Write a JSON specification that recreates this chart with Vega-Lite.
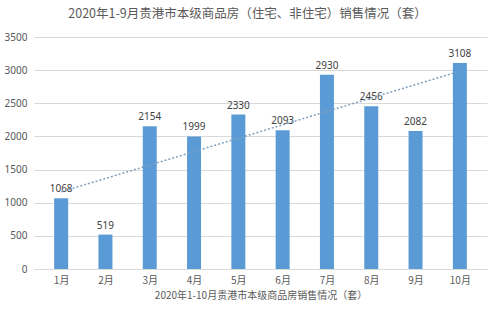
{
  "$schema": "https://vega.github.io/schema/vega-lite/v6.json",
  "autosize": {"type": "none"},
  "padding": {"left": 34, "top": 37, "right": 13, "bottom": 45},
  "width": 453,
  "height": 232,
  "background": "white",
  "title": {
    "text": "2020年1-9月贵港市本级商品房（住宅、非住宅）销售情况（套）",
    "font": "Noto Sans CJK SC",
    "fontSize": 12.5,
    "fontWeight": "normal",
    "color": "#595959",
    "anchor": "middle",
    "frame": "group",
    "dx": -13,
    "offset": 12
  },
  "config": {
    "view": {"stroke": null},
    "font": "Noto Sans CJK SC"
  },
  "data": {
    "values": [
      {"m": 1, "v": 1068},
      {"m": 2, "v": 519},
      {"m": 3, "v": 2154},
      {"m": 4, "v": 1999},
      {"m": 5, "v": 2330},
      {"m": 6, "v": 2093},
      {"m": 7, "v": 2930},
      {"m": 8, "v": 2456},
      {"m": 9, "v": 2082},
      {"m": 10, "v": 3108}
    ]
  },
  "encoding": {
    "x": {
      "field": "m",
      "type": "quantitative",
      "scale": {"domain": [0.5, 10.5], "nice": false, "zero": false},
      "axis": {
        "values": [1, 2, 3, 4, 5, 6, 7, 8, 9, 10],
        "labelExpr": "datum.value + '月'",
        "grid": false,
        "ticks": false,
        "domainColor": "#d9d9d9",
        "labelColor": "#595959",
        "labelFontSize": 10,
        "labelPadding": 6,
        "title": "2020年1-10月贵港市本级商品房销售情况（套）",
        "titleFontSize": 10,
        "titleFontWeight": "normal",
        "titleColor": "#595959",
        "titlePadding": 5
      }
    },
    "y": {
      "field": "v",
      "type": "quantitative",
      "scale": {"domain": [0, 3500], "nice": false},
      "axis": {
        "values": [0, 500, 1000, 1500, 2000, 2500, 3000, 3500],
        "format": "d",
        "grid": true,
        "gridColor": "#d9d9d9",
        "domain": false,
        "ticks": false,
        "labelColor": "#595959",
        "labelFont": "Noto Sans",
        "labelFontSize": 10,
        "labelPadding": 7,
        "title": null
      }
    }
  },
  "layer": [
    {
      "mark": {"type": "bar", "width": 14, "color": "#5b9bd5"}
    },
    {
      "mark": {"type": "text", "baseline": "bottom", "dy": -4, "font": "Noto Sans", "fontSize": 10, "fontWeight": "normal", "color": "#404040"},
      "encoding": {"text": {"field": "v", "type": "quantitative", "format": "d"}}
    },
    {
      "transform": [{"regression": "v", "on": "m", "extent": [1, 10]}],
      "mark": {"type": "line", "color": "#7f9fbf", "strokeWidth": 1.5, "strokeDash": [2, 2]}
    }
  ]
}
